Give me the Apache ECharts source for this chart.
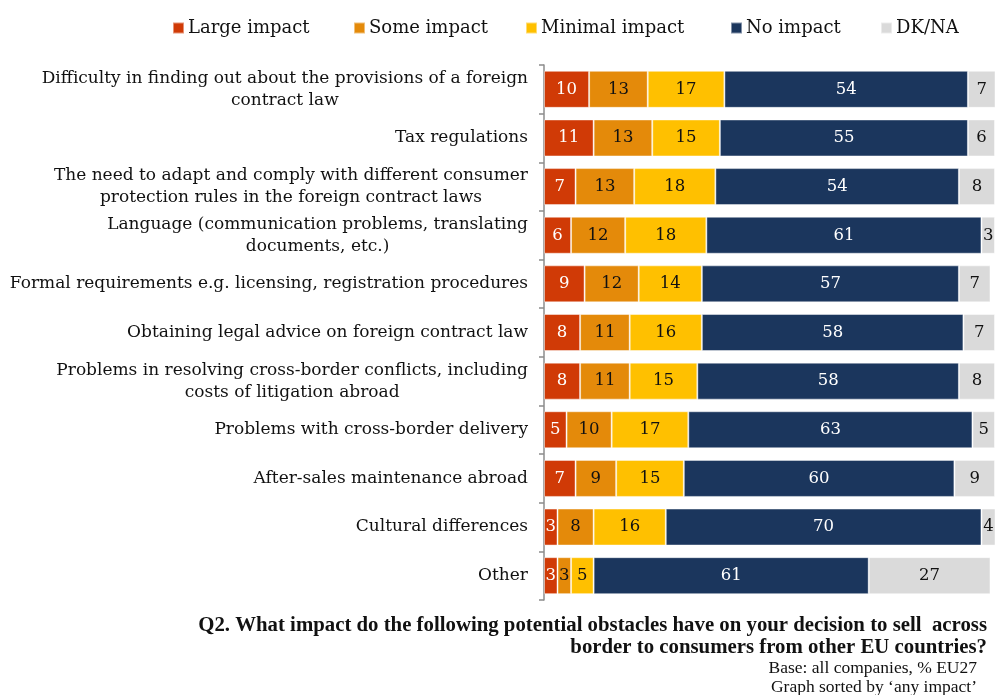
<!DOCTYPE html>
<html><head><meta charset="utf-8">
<script src="https://cdn.jsdelivr.net/npm/echarts@6/dist/echarts.min.js"></script>
<style>html,body{margin:0;padding:0;background:#fff}#c{width:995px;height:695px}</style>
</head><body><div id="c"></div>
<script>
var categories = [
  'Difficulty in finding out about the provisions of a foreign\ncontract law',
  'Tax regulations',
  'The need to adapt and comply with different consumer\nprotection rules in the foreign contract laws',
  'Language (communication problems, translating\ndocuments, etc.)',
  'Formal requirements e.g. licensing, registration procedures',
  'Obtaining legal advice on foreign contract law',
  'Problems in resolving cross-border conflicts, including\ncosts of litigation abroad',
  'Problems with cross-border delivery',
  'After-sales maintenance abroad',
  'Cultural differences',
  'Other'
];
var seriesNames = ['Large impact', 'Some impact', 'Minimal impact', 'No impact', 'DK/NA'];
var largeImpact   = [10, 11, 7, 6, 9, 8, 8, 5, 7, 3, 3];
var someImpact    = [13, 13, 13, 12, 12, 11, 11, 10, 9, 8, 3];
var minimalImpact = [17, 15, 18, 18, 14, 16, 15, 17, 15, 16, 5];
var noImpact      = [54, 55, 54, 61, 57, 58, 58, 63, 60, 70, 61];
var dkna          = [7, 6, 8, 3, 7, 7, 8, 5, 9, 4, 27];

var FONT = '"DejaVu Serif", serif';
var FONT2 = '"Liberation Serif", serif';
var colors = ['#D03A06', '#E48A0A', '#FFC000', '#1B365D', '#DADADA'];
var labelColors = ['#fff', '#111', '#111', '#fff', '#111'];
var values = [largeImpact, someImpact, minimalImpact, noImpact, dkna];
var legendLeft = [167, 348, 520, 725, 875];

var chart = echarts.init(document.getElementById('c'));
var legends = seriesNames.map(function (n, i) {
  return {
    data: [n], left: legendLeft[i], top: 14, itemWidth: 11, itemHeight: 11, itemGap: 5,
    icon: 'rect', textStyle: { fontFamily: FONT, fontSize: 18, color: '#111', padding: [0,0,0,-1] }
  };
});
var series = seriesNames.map(function (n, i) {
  return {
    name: n, type: 'bar', stack: 'a', data: values[i], barWidth: 37,
    itemStyle: { color: colors[i], borderColor: 'rgba(255,255,255,0.45)', borderWidth: 1 },
    label: { show: true, position: 'inside', fontFamily: FONT, fontSize: 16.5, color: labelColors[i] },
    emphasis: { disabled: true }
  };
});
chart.setOption({
  animation: false,
  legend: legends,
  grid: { left: 544, right: 0, top: 65, height: 535, containLabel: false, outerBoundsMode: 'none' },
  xAxis: { type: 'value', min: 0, max: 100, show: false },
  yAxis: {
    type: 'category', data: categories, inverse: true,
    axisLine: { show: true, lineStyle: { color: '#8c8c8c', width: 1.5 } },
    axisTick: { show: true, length: 5, lineStyle: { color: '#8c8c8c', width: 1.5 } },
    axisLabel: {
      margin: 16, fontFamily: FONT, fontSize: 17, color: '#111', lineHeight: 22,
      formatter: function (v) { return v.split('\n').map(function (s) { return '{c|' + s + '}'; }).join('\n'); },
      rich: { c: { align: 'center', fontFamily: FONT, fontSize: 17, lineHeight: 22, color: '#111' } }
    }
  },
  series: series,
  graphic: [
    { type: 'text', right: 8, top: 615, style: { text: 'Q2. What impact do the following potential obstacles have on your decision to sell  across', font: 'bold 20.8px ' + FONT2, fill: '#111' } },
    { type: 'text', right: 8, top: 637, style: { text: 'border to consumers from other EU countries?', font: 'bold 20.8px ' + FONT2, fill: '#111' } },
    { type: 'text', right: 18, top: 659, style: { text: 'Base: all companies, % EU27', font: '17.5px ' + FONT2, fill: '#111' } },
    { type: 'text', right: 18, top: 678, style: { text: 'Graph sorted by \u2018any impact\u2019', font: '17.5px ' + FONT2, fill: '#111' } }
  ]
});
</script></body></html>
